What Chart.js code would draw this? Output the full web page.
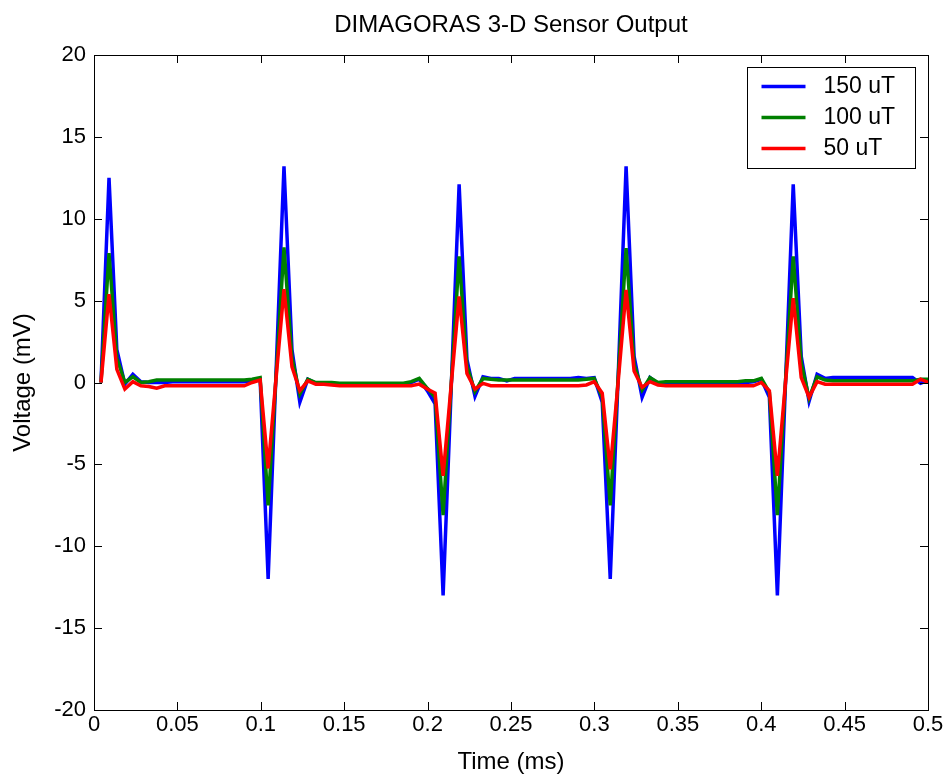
<!DOCTYPE html>
<html lang="en">
<head>
  <meta charset="UTF-8" />
  <title>DIMAGORAS 3-D Sensor Output</title>
  <script src="https://cdn.jsdelivr.net/npm/chart.js"></script>
  <style>
    body {
      margin: 0;
      background-color: #ffffff;
    }
    #wrap {
      width: 951px;
      height: 777px;
    }
  </style>
</head>
<body>
  <div id="wrap"><canvas id="sensorChart" width="951" height="777"></canvas></div>

  <script>
    // sample times (ms)
    const times = [
      0.0042, 0.0090, 0.0137, 0.0185, 0.0233, 0.0281, 0.0328, 0.0376, 0.0424, 0.0471,
      0.0519, 0.0567, 0.0614, 0.0662, 0.0710, 0.0758, 0.0805, 0.0853, 0.0901, 0.0948,
      0.0996, 0.1044, 0.1091, 0.1139, 0.1187, 0.1234, 0.1282, 0.1330, 0.1378, 0.1425,
      0.1473, 0.1521, 0.1568, 0.1616, 0.1664, 0.1712, 0.1759, 0.1807, 0.1855, 0.1902,
      0.1950, 0.1998, 0.2045, 0.2093, 0.2141, 0.2189, 0.2236, 0.2284, 0.2332, 0.2379,
      0.2427, 0.2475, 0.2522, 0.2570, 0.2618, 0.2666, 0.2713, 0.2761, 0.2809, 0.2856,
      0.2904, 0.2952, 0.2999, 0.3047, 0.3095, 0.3143, 0.3190, 0.3238, 0.3286, 0.3333,
      0.3381, 0.3429, 0.3476, 0.3524, 0.3572, 0.3620, 0.3667, 0.3715, 0.3763, 0.3810,
      0.3858, 0.3906, 0.3953, 0.4001, 0.4049, 0.4097, 0.4144, 0.4192, 0.4240, 0.4287,
      0.4335, 0.4383, 0.4430, 0.4478, 0.4526, 0.4574, 0.4621, 0.4669, 0.4717, 0.4764,
      0.4812, 0.4860, 0.4907, 0.4955, 0.5003
    ];

    // 150 uT (mV)
    const v150 = [
      0, 12.5, 2.0, -0.1, 0.5, 0.05, 0.0, 0.0, 0.0, 0.05,
      0.05, 0.05, 0.05, 0.05, 0.05, 0.05, 0.05, 0.05, 0.05, 0.1,
      0.2, -12.0, 0.5, 13.2, 2.0, -1.2, 0.2, -0.05, -0.05, -0.1,
      -0.1, -0.1, -0.1, -0.1, -0.1, -0.1, -0.1, -0.1, -0.1, 0.0,
      0.2, -0.5, -1.3, -13.0, -0.5, 12.1, 1.4, -0.85, 0.35, 0.25,
      0.25, 0.1, 0.25, 0.25, 0.25, 0.25, 0.25, 0.25, 0.25, 0.25,
      0.3, 0.25, 0.3, -1.2, -12.0, 0.5, 13.2, 1.6, -0.9, 0.3,
      -0.05, 0.0, 0.0, 0.0, 0.0, 0.0, 0.0, 0.0, 0.0, 0.0,
      0.0, 0.0, 0.05, 0.2, -0.9, -13.0, -0.5, 12.1, 1.6, -1.15,
      0.5, 0.25, 0.3, 0.3, 0.3, 0.3, 0.3, 0.3, 0.3, 0.3,
      0.3, 0.3, 0.3, -0.05, 0.15
    ];

    // 100 uT (mV)
    const v100 = [
      0, 7.9, 1.5, 0.0, 0.35, 0.0, 0.05, 0.15, 0.15, 0.15,
      0.15, 0.15, 0.15, 0.15, 0.15, 0.15, 0.15, 0.15, 0.15, 0.2,
      0.3, -7.5, 0.3, 8.25, 1.5, -0.7, 0.2, 0.0, 0.0, 0.0,
      -0.05, -0.05, -0.05, -0.05, -0.05, -0.05, -0.05, -0.05, -0.05, 0.05,
      0.25, -0.35, -0.9, -8.1, -0.2, 7.7, 1.0, -0.55, 0.25, 0.2,
      0.15, 0.15, 0.15, 0.15, 0.15, 0.15, 0.15, 0.15, 0.15, 0.15,
      0.15, 0.2, 0.25, -0.9, -7.5, 0.4, 8.2, 1.1, -0.45, 0.3,
      0.0, 0.05, 0.05, 0.05, 0.05, 0.05, 0.05, 0.05, 0.05, 0.05,
      0.05, 0.1, 0.1, 0.25, -0.6, -8.1, -0.2, 7.7, 1.2, -0.95,
      0.35, 0.15, 0.1, 0.1, 0.1, 0.1, 0.1, 0.1, 0.1, 0.1,
      0.1, 0.1, 0.1, 0.2, 0.2
    ];

    // 50 uT (mV)
    const v50 = [
      0, 5.4, 0.8, -0.4, 0.05, -0.2, -0.25, -0.35, -0.2, -0.2,
      -0.2, -0.2, -0.2, -0.2, -0.2, -0.2, -0.2, -0.2, -0.2, 0.0,
      0.15, -5.25, 0.2, 5.7, 0.95, -0.5, 0.1, -0.1, -0.1, -0.15,
      -0.2, -0.2, -0.2, -0.2, -0.2, -0.2, -0.2, -0.2, -0.2, -0.2,
      -0.1, -0.4, -0.65, -5.7, -0.2, 5.25, 0.55, -0.4, -0.05, -0.2,
      -0.2, -0.2, -0.2, -0.2, -0.2, -0.2, -0.2, -0.2, -0.2, -0.2,
      -0.2, -0.15, 0.05, -0.65, -5.3, 0.1, 5.65, 0.7, -0.3, 0.05,
      -0.15, -0.2, -0.2, -0.2, -0.2, -0.2, -0.2, -0.2, -0.2, -0.2,
      -0.2, -0.2, -0.2, 0.0, -0.5, -5.7, -0.2, 5.15, 0.3, -0.9,
      0.05, -0.1, -0.1, -0.1, -0.1, -0.1, -0.1, -0.1, -0.1, -0.1,
      -0.1, -0.1, -0.1, 0.2, 0.0
    ];

    const seriesNames = ["150 uT", "100 uT", "50 uT"];
    const xTicks = [0, 0.05, 0.1, 0.15, 0.2, 0.25, 0.3, 0.35, 0.4, 0.45, 0.5];
    const yTicks = [-20, -15, -10, -5, 0, 5, 10, 15, 20];
    const titulo = "DIMAGORAS 3-D Sensor Output";

    const colores = ["#0000ff", "#008000", "#ff0000"];
    const FUENTE = "'Liberation Sans', Arial, sans-serif";

    function puntos(vals) {
      return vals.map((v, i) => ({ x: times[i], y: v }));
    }

    // title over the axes, box, inward ticks and legend, like the MATLAB figure
    const marcoPlugin = {
      id: "marco",
      afterDraw(chart) {
        const ctx = chart.ctx;
        const a = chart.chartArea;
        const xs = chart.scales.x;
        const ys = chart.scales.y;
        const largo = 8;
        ctx.save();

        ctx.fillStyle = "#000";
        ctx.font = "24px " + FUENTE;
        ctx.textAlign = "center";
        ctx.textBaseline = "middle";
        ctx.fillText(titulo, (a.left + a.right) / 2, a.top - 30);

        ctx.strokeStyle = "#000";
        ctx.lineWidth = 1;
        ctx.beginPath();
        xTicks.forEach(v => {
          const px = Math.round(xs.getPixelForValue(v)) + 0.5;
          ctx.moveTo(px, a.bottom); ctx.lineTo(px, a.bottom - largo);
          ctx.moveTo(px, a.top); ctx.lineTo(px, a.top + largo);
        });
        yTicks.forEach(v => {
          const py = Math.round(ys.getPixelForValue(v)) + 0.5;
          ctx.moveTo(a.left, py); ctx.lineTo(a.left + largo, py);
          ctx.moveTo(a.right, py); ctx.lineTo(a.right - largo, py);
        });
        ctx.stroke();
        ctx.strokeRect(Math.round(a.left) + 0.5, Math.round(a.top) + 0.5,
          Math.round(a.right - a.left), Math.round(a.bottom - a.top));

        // legend
        const w = 168, h = 101;
        const lx = Math.round(a.right - 13 - w) + 0.5;
        const ly = Math.round(a.top + 12) + 0.5;
        ctx.fillStyle = "#fff";
        ctx.fillRect(lx, ly, w, h);
        ctx.strokeRect(lx, ly, w, h);
        ctx.font = "23px " + FUENTE;
        ctx.textBaseline = "middle";
        ctx.textAlign = "left";
        seriesNames.forEach((n, i) => {
          const ry = ly + 19 + i * 31;
          ctx.strokeStyle = colores[i];
          ctx.lineWidth = 3.5;
          ctx.beginPath();
          ctx.moveTo(lx + 14, ry); ctx.lineTo(lx + 58, ry);
          ctx.stroke();
          ctx.fillStyle = "#000";
          ctx.fillText(n, lx + 76, ry);
        });
        ctx.restore();
      }
    };

    new Chart(document.getElementById("sensorChart"), {
      type: "line",
      data: {
        datasets: [v150, v100, v50].map((vals, i) => ({
          label: seriesNames[i],
          data: puntos(vals),
          borderColor: colores[i],
          backgroundColor: colores[i],
          borderWidth: 3.5,
          pointRadius: 0,
          tension: 0,
          fill: false,
          order: 3 - i
        }))
      },
      options: {
        responsive: false,
        animation: false,
        layout: { padding: { left: 0, right: 23, top: 55, bottom: 0 } },
        plugins: {
          legend: { display: false },
          tooltip: { enabled: false },
          title: { display: false }
        },
        scales: {
          x: {
            type: "linear",
            min: 0,
            max: 0.5,
            afterBuildTicks: s => { s.ticks = xTicks.map(v => ({ value: v })); },
            afterFit: s => { s.height = 67; },
            grid: { display: false, drawTicks: false },
            border: { display: false },
            ticks: {
              color: "#000",
              padding: 2,
              maxRotation: 0,
              font: { family: FUENTE, size: 22 },
              callback: v => String(v)
            },
            title: {
              display: true,
              text: "Time (ms)",
              color: "#000",
              font: { family: FUENTE, size: 24 },
              padding: { top: 0, bottom: 0 }
            }
          },
          y: {
            min: -20,
            max: 20,
            afterBuildTicks: s => { s.ticks = yTicks.map(v => ({ value: v })); },
            afterFit: s => { s.width = 94; },
            grid: { display: false, drawTicks: false },
            border: { display: false },
            ticks: {
              color: "#000",
              padding: 8,
              font: { family: FUENTE, size: 22 },
              callback: v => String(v)
            },
            title: {
              display: true,
              text: "Voltage (mV)",
              color: "#000",
              font: { family: FUENTE, size: 24 },
              padding: { top: 9, bottom: 0 }
            }
          }
        }
      },
      plugins: [marcoPlugin]
    });
  </script>
</body>
</html>
